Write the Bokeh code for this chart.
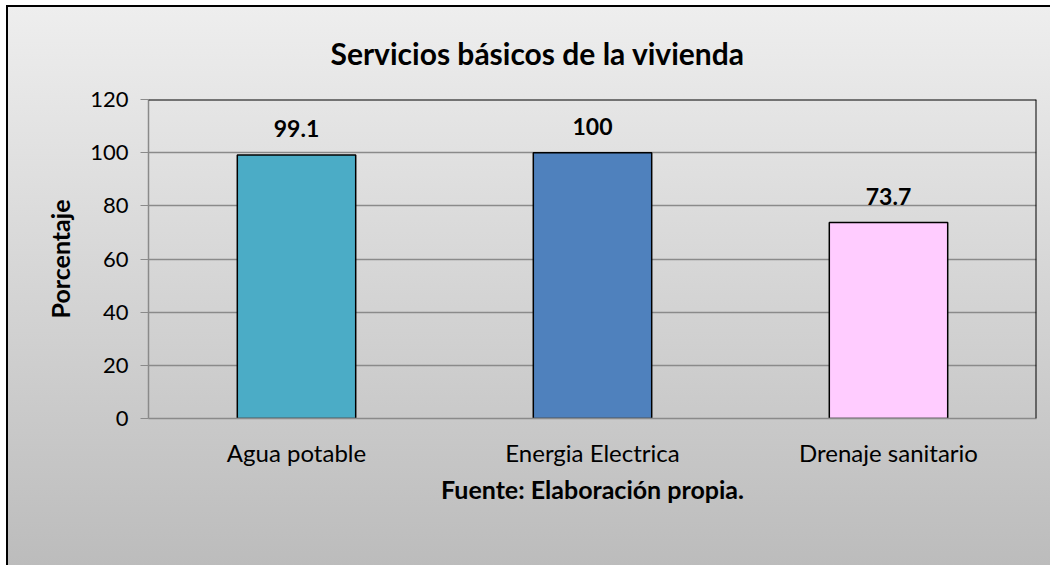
from bokeh.plotting import figure
from bokeh.models import ColumnDataSource, Span, LabelSet, FixedTicker
from bokeh.core.properties import value
from bokeh.embed import file_html
from bokeh.resources import INLINE

categories = ["Agua potable", "Energia Electrica", "Drenaje sanitario"]
values = [99.1, 100, 73.7]
value_labels = ["99.1", "100", "73.7"]
colors = ["#4BACC6", "#4F81BD", "#FFCCFF"]
y_ticks = [0, 20, 40, 60, 80, 100, 120]

FONT = "Lato"

src = ColumnDataSource(dict(cat=categories, val=values, lab=value_labels, col=colors))

p = figure(x_range=categories, y_range=(0, 120), width=1044, height=560,
           output_backend="svg", toolbar_location=None,
           min_border_left=140, min_border_top=92, min_border_right=16, min_border_bottom=149)
p.styles = {"background": "linear-gradient(to bottom, #eeeeee, #bcbcbc)",
            "border-top": "2px solid #000000", "border-left": "2px solid #000000",
            "margin-left": "6px", "margin-top": "5px"}
p.border_fill_color = None
p.background_fill_color = None
p.outline_line_color = None

p.title.text = "Servicios básicos de la vivienda"
p.title.align = "left"
p.title.vertical_align = "top"
p.title.offset = 182
p.title.standoff = 54
p.title.text_font = FONT
p.title.text_font_style = "bold"
p.title.text_font_size = "30px"
p.title.text_color = "#000000"

p.vbar(x="cat", top="val", width=0.4, source=src, fill_color="col",
       line_color="#000000", line_width=1.5)

p.add_layout(LabelSet(x="cat", y="val", text="lab", source=src, text_align="center",
                      text_baseline="bottom", y_offset=18, text_font=value(FONT),
                      text_font_style="bold", text_font_size="23px", text_color="#000000"))

p.ygrid.ticker = FixedTicker(ticks=y_ticks)
p.ygrid.grid_line_color = "#8a8a8a"
p.ygrid.grid_line_width = 1.5
p.xgrid.grid_line_color = None

p.add_layout(Span(location=120, dimension="width", line_color="#000000", line_width=2))
p.add_layout(Span(location=3, dimension="height", line_color="#000000", line_width=2))

p.yaxis.ticker = FixedTicker(ticks=y_ticks)
p.yaxis.axis_line_color = "#8a8a8a"
p.yaxis.axis_line_width = 1.5
p.yaxis.major_tick_line_color = "#8a8a8a"
p.yaxis.major_tick_out = 8
p.yaxis.major_tick_in = 0
p.yaxis.minor_tick_line_color = None
p.yaxis.major_label_text_font = FONT
p.yaxis.major_label_text_font_size = "22px"
p.yaxis.major_label_text_color = "#000000"
p.yaxis.major_label_standoff = 12
p.yaxis.axis_label = "Porcentaje"
p.yaxis.axis_label_text_font = FONT
p.yaxis.axis_label_text_font_style = "bold"
p.yaxis.axis_label_text_font_size = "25px"
p.yaxis.axis_label_text_color = "#000000"
p.yaxis.axis_label_standoff = 12

p.xaxis.axis_line_color = "#8a8a8a"
p.xaxis.axis_line_width = 1.5
p.xaxis.major_tick_line_color = None
p.xaxis.major_label_text_font = FONT
p.xaxis.major_label_text_font_size = "24px"
p.xaxis.major_label_text_color = "#000000"
p.xaxis.major_label_standoff = 13
p.xaxis.axis_label = "Fuente: Elaboración propia."
p.xaxis.axis_label_text_font = FONT
p.xaxis.axis_label_text_font_style = "bold"
p.xaxis.axis_label_text_font_size = "25px"
p.xaxis.axis_label_text_color = "#000000"
p.xaxis.axis_label_standoff = 4

open("out.html", "w").write(file_html(p, INLINE))
